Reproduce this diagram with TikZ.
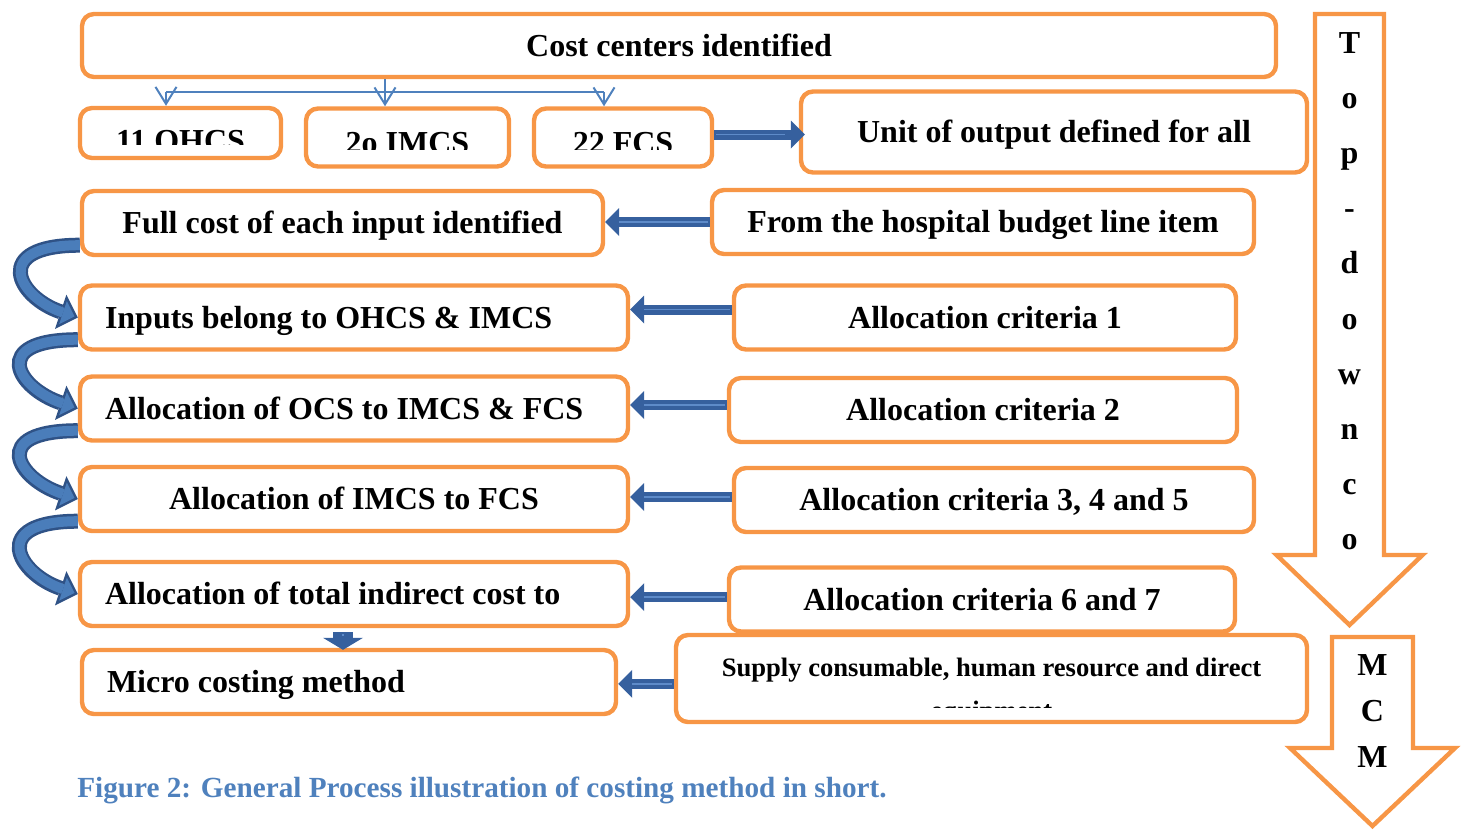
\documentclass[tikz,border=0pt]{standalone}
\usepackage{fontspec}
\setmainfont{Liberation Serif}
\usetikzlibrary{arrows.meta,calc}

\definecolor{boxorange}{HTML}{F79646}
\definecolor{branchblue}{HTML}{4F81BD}
\definecolor{pushdark}{HTML}{36609E}
\definecolor{pushlight}{HTML}{5E8BC9}
\definecolor{loopdark}{HTML}{2F5286}
\definecolor{looplight}{HTML}{4A7DBA}

\tikzset{
    stage/.style={draw=boxorange, line width=2.2pt, rounded corners=6pt, fill=white, inner sep=0pt,
        align=center, text height=12pt, text depth=1.4pt, font=\bfseries\fontsize{16}{19}\selectfont},
    stageleft/.style={stage, align=flush left, inner xsep=12.5pt},
    branch/.style={draw=branchblue, line width=1pt},
    pusharrow/.style={draw=pushdark, line width=5pt, -{Triangle[length=7pt,width=14pt,line width=0pt]},
        postaction={draw=pushlight, line width=0.8pt, -, shorten >=7pt, shorten <=1pt}},
    loopback/.style={draw=loopdark, line width=7.5pt, -{Triangle[length=9pt,width=18pt,line width=0pt]},
        postaction={draw=looplight, line width=5pt, shorten >=1.7pt, -{Triangle[length=6.1pt,width=12.2pt,line width=0pt]}}},
    bigdown/.style={draw=boxorange, line width=2.2pt, fill=white, line join=miter},
    letter/.style={font=\bfseries\fontsize{16}{19}\selectfont, anchor=base, inner sep=0pt}
}

\begin{document}
\begin{tikzpicture}[x=0.5pt, y=-0.5pt]
    \useasboundingbox (0,0) rectangle (1465,831);

    % big outlined arrows on the right
    \draw[bigdown] (1315,14) -- (1384,14) -- (1384,555) -- (1422.5,555) -- (1349.5,625)
        -- (1276.5,555) -- (1315,555) -- cycle;
    \draw[bigdown] (1332,637) -- (1413,637) -- (1413,748) -- (1455,748) -- (1372.5,826)
        -- (1290,748) -- (1332,748) -- cycle;
    \foreach \ch [count=\i] in {T,o,p,-,d,o,w,n,c,o}{ \node[letter] (td\i) at (1349.5, {53+55.2*(\i-1)}) {\ch}; }
    \foreach \ch [count=\i] in {M,C,M}{ \node[letter] (mcm\i) at (1372.5, {675+46*(\i-1)}) {\ch}; }

    % boxes
    \node[stage, minimum width=597pt, minimum height=31.5pt] (cost) at (679,45.5) {Cost centers identified};
    \node[stage, minimum width=100.5pt, minimum height=25pt] (ohcs) at (180.5,133) {};
    \node[stage, minimum width=101.5pt, minimum height=29pt] (imcs) at (407.5,137.5) {};
    \node[stage, minimum width=89pt, minimum height=29pt] (fcs) at (623,137.5) {};
    \node[stage, minimum width=253pt, minimum height=40.5pt] (unit) at (1054,132) {Unit of output defined for all};

    \node[stage, minimum width=260.5pt, minimum height=32pt] (full) at (342.5,223) {Full cost of each input identified};
    \node[stage, minimum width=271pt, minimum height=32pt] (hosp) at (983,222) {From the hospital budget line item};
    \node[stageleft, text width=249pt, minimum height=32pt] (inputs) at (354,317.5) {Inputs belong to OHCS \& IMCS};
    \node[stage, minimum width=251pt, minimum height=32pt] (crit1) at (985,317.5) {Allocation criteria 1};
    \node[stageleft, text width=249pt, minimum height=32pt] (ocs) at (354,408.5) {Allocation of OCS to IMCS \& FCS};
    \node[stage, minimum width=254pt, minimum height=32pt] (crit2) at (983,410) {Allocation criteria 2};
    \node[stage, minimum width=274pt, minimum height=32pt] (imfcs) at (354,499) {Allocation of IMCS to FCS};
    \node[stage, minimum width=260pt, minimum height=32pt] (crit345) at (994,500) {Allocation criteria 3, 4 and 5};
    \node[stageleft, text width=249pt, minimum height=32pt] (total) at (354,594) {Allocation of total indirect cost to};
    \node[stage, minimum width=253pt, minimum height=32pt] (crit67) at (982,599.5) {Allocation criteria 6 and 7};
    \node[stageleft, text width=242pt, minimum height=32pt] (micro) at (349,682) {Micro costing method};
    \node[stage, minimum width=315.5pt, minimum height=43.5pt] (supply) at (991.5,678.5) {};

    % texts cut off by their boxes
    \foreach \n/\txt/\b/\c in {ohcs/11 OHCS/151/144, imcs/2o IMCS/153/149, fcs/22 FCS/153/149}{%
        \begin{scope}
            \clip (\n.north west) rectangle (\n.east |- 0,\c);
            \node[letter] (\n-label) at (\n.center |- 0,\b) {\txt};
        \end{scope}
    }
    \node[letter, font=\bfseries\fontsize{13.3}{16}\selectfont] (supply-label) at (991.5,676)
        {Supply consumable, human resource and direct};
    \begin{scope}
        \clip (supply.north west) rectangle (supply.east |- 0,707);
        \node[letter, font=\bfseries\fontsize{13.3}{16}\selectfont] (supply-label2) at (991.5,719.5) {equipment};
    \end{scope}

    % branching from the cost centres
    \coordinate (split) at (385,92);
    \coordinate (splitleft) at (166,92);
    \coordinate (splitright) at (604,92);
    \draw[branch] (cost.south -| split) -- (split);
    \draw[branch] (splitleft) -- (splitright);
    \foreach \x/\n in {166/ohcs, 385/imcs, 604/fcs}{ \draw[branch, -{Straight Barb[length=8.5pt,width=10.5pt]}] (\x,92) -- (\x,92 |- \n.north); }

    % block arrows
    \draw[pusharrow, shorten >=-3pt] ([yshift=1.5pt]fcs.east) -- ([yshift=1.5pt]fcs.east -| unit.west);
    \foreach \src/\dst/\dy in {hosp/full/0pt, crit1/inputs/4pt, crit2/ocs/2.5pt, crit345/imfcs/1.5pt, crit67/total/1.2pt, supply/micro/-2.7pt}{%
        \draw[pusharrow] ([yshift=\dy]\src.west) -- ([yshift=\dy]\src.west -| \dst.east);
    }
    \draw[pusharrow, line width=10pt, -{Triangle[length=6pt,width=20pt,line width=0pt]}]
        ($(total.south)+(-11,4)$) -- ($(micro.north)+(-6,2)$);

    % curved arrows down the left side
    \foreach \a/\b in {full/inputs, inputs/ocs, ocs/imfcs, imfcs/total}{%
        \draw[loopback] ($(\a.south west)+(0,-12)$) .. controls +(-90,0) and +(-60,-20) .. (\b.west);
    }

    \node[anchor=base west, inner sep=0pt, text=branchblue, font=\bfseries\fontsize{14.6}{18}\selectfont] (caption)
        at (77,797) {Figure 2: General Process illustration of costing method in short.};
\end{tikzpicture}
\end{document}
